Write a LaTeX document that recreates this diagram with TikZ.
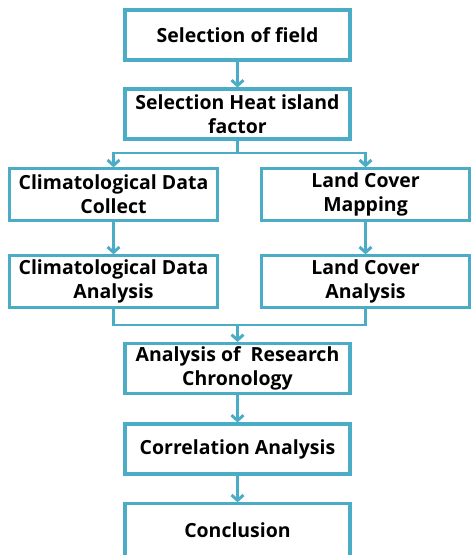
\documentclass[tikz,border=0pt]{standalone}
\usepackage{fontspec}
\setmainfont{Open Sans}
\usetikzlibrary{arrows.meta}
\definecolor{boxline}{RGB}{75,172,198}
\tikzset{
  stage/.style={draw=boxline, line width=2.3pt, fill=white, align=center,
    font=\bfseries\fontsize{14.6}{18}\selectfont, inner sep=0pt},
  wide/.style={stage, minimum width=168.75pt, minimum height=37.5pt},
  half/.style={stage, minimum width=156pt, minimum height=38.5pt},
  flow/.style={draw=boxline, line width=2.2pt, -{Straight Barb[length=4pt,width=9pt]}},
  link/.style={draw=boxline, line width=2.2pt}
}
\begin{document}
\begin{tikzpicture}[x=0.75pt,y=-0.75pt]
\useasboundingbox (0,0) rectangle (471,555);

% main column
\node[wide] (field) at (237.5,35) {Selection of field};
\node[wide] (factor) at (237.5,114) {Selection Heat island\\factor};

% two branches
\node[half] (climcol) at (113.5,194.5) {Climatological Data\\Collect};
\node[half] (landmap) at (365.5,194.5) {Land Cover\\Mapping};
\node[half] (climana) at (113.5,281.5) {Climatological Data\\Analysis};
\node[half] (landana) at (365.5,281.5) {Land Cover\\Analysis};

% back to one column
\node[wide] (chrono) at (237.5,368.5) {Analysis of~ Research\\Chronology};
\node[wide] (correl) at (237.5,449) {Correlation Analysis};
\node[wide, minimum height=40pt] (concl) at (237.5,530.5) {Conclusion};

\coordinate (split) at (237.5,153);
\coordinate (join) at (237.5,325);

\draw[flow] (field) -- (factor);
\draw[link] (factor) -- (split);
\draw[flow] (split) -| (climcol);
\draw[flow] (split) -| (landmap);
\draw[flow] (climcol) -- (climana);
\draw[flow] (landmap) -- (landana);
\draw[link] (climana) |- (join);
\draw[link] (landana) |- (join);
\draw[flow] (join) -- (chrono);
\draw[flow] (chrono) -- (correl);
\draw[flow] (correl) -- (concl);
\end{tikzpicture}
\end{document}
